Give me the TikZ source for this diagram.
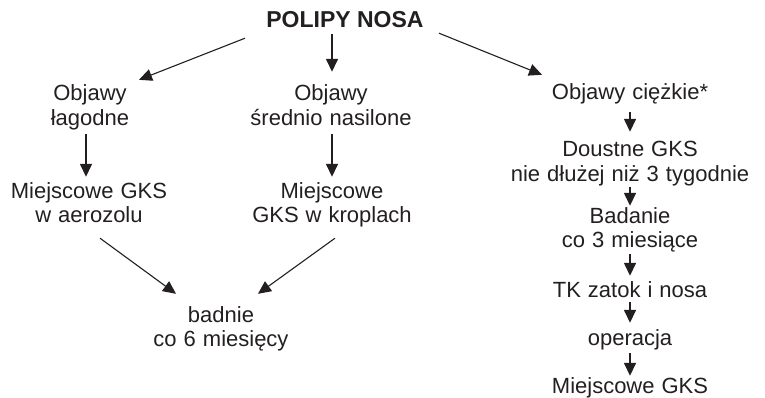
\documentclass[tikz,border=0pt]{standalone}
\usepackage{fontspec}
\setmainfont{Liberation Sans}
\usetikzlibrary{arrows.meta}
\definecolor{ink}{RGB}{35,31,32}
\newcommand{\hs}{\rule{0pt}{18pt}}
\newcommand{\ds}{\rule[-6pt]{0pt}{6pt}}
\newcommand{\twol}[2]{\vtop{\halign{\hfil##\hfil\cr\hs #1\cr #2\ds\cr}}}
\newcommand{\onel}[1]{\hs #1\ds}
\begin{document}
\begin{tikzpicture}[x=1pt,y=1pt,
  txt/.style={inner sep=0pt, anchor=base, text=ink,
    font={\fontsize{22}{24.5}\selectfont\spaceskip=7pt\relax}},
  ttl/.style={inner sep=0pt, anchor=base, text=ink,
    font={\fontsize{23}{25}\selectfont\bfseries}},
  arrv/.style={draw=ink, line width=1.5pt, -{Triangle[length=13pt,width=12pt]}},
  arrd/.style={draw=ink, line width=1.1pt, -{Triangle[length=13pt,width=12pt]}}]
\useasboundingbox (0,0) rectangle (765,-398);

\node[ttl] (title) at (345,-28) {\onel{POLIPY NOSA}};

\node[txt] (l1) at (90,-101) {\twol{Objawy}{łagodne}};
\node[txt] (m1) at (331,-101) {\twol{Objawy}{średnio nasilone}};
\node[txt] (r1) at (630,-100) {\onel{Objawy ciężkie*}};

\node[txt] (l2) at (89,-198) {\twol{Miejscowe GKS}{w aerozolu}};
\node[txt] (m2) at (332,-198) {\twol{Miejscowe}{GKS w kroplach}};
\node[txt] (b) at (221,-322) {\twol{badnie}{co 6 miesięcy}};

\node[txt] (r2) at (630,-157) {\twol{Doustne GKS}{nie dłużej niż 3 tygodnie}};
\node[txt] (r3) at (630,-223) {\twol{Badanie}{co 3 miesiące}};
\node[txt] (r4) at (630,-297) {\onel{TK zatok i nosa}};
\node[txt] (r5) at (630,-345) {\onel{operacja}};
\node[txt] (r6) at (630,-393) {\onel{Miejscowe GKS}};

% from title
\draw[arrd] ([xshift=-100pt,yshift=-4pt]title.south) -- ([xshift=49pt,yshift=3pt]l1.north);
\draw[arrv] ([xshift=-13pt]title.south) -- ([xshift=1pt,yshift=11pt]m1.north);
\draw[arrd] ([xshift=94pt,yshift=1pt]title.south) -- ([xshift=-88pt,yshift=7pt]r1.north);

% left and middle columns
\draw[arrv] ([xshift=-4pt,yshift=-2.5pt]l1.south) -- ([xshift=-3pt,yshift=3pt]l2.north);
\draw[arrv] ([xshift=1pt,yshift=-2.5pt]m1.south) -- ([yshift=3pt]m2.north);
\draw[arrd] ([xshift=11pt,yshift=-9.5pt]l2.south) -- ([xshift=-45pt,yshift=10pt]b.north);
\draw[arrd] ([xshift=3pt,yshift=-9.5pt]m2.south) -- ([xshift=37pt,yshift=10pt]b.north);

% right column
\draw[arrv] ([yshift=-6pt]r1.south) -- ([yshift=7pt]r2.north);
\draw[arrv] ([yshift=1pt]r2.south) -- ([yshift=-1pt]r3.north);
\draw[arrv] ([yshift=-0.5pt]r3.south) -- ([yshift=3pt]r4.north);
\draw[arrv] ([yshift=1pt]r4.south) -- ([yshift=4pt]r5.north);
\draw[arrv] ([yshift=-2pt]r5.south) -- ([yshift=-1pt]r6.north);
\end{tikzpicture}
\end{document}
